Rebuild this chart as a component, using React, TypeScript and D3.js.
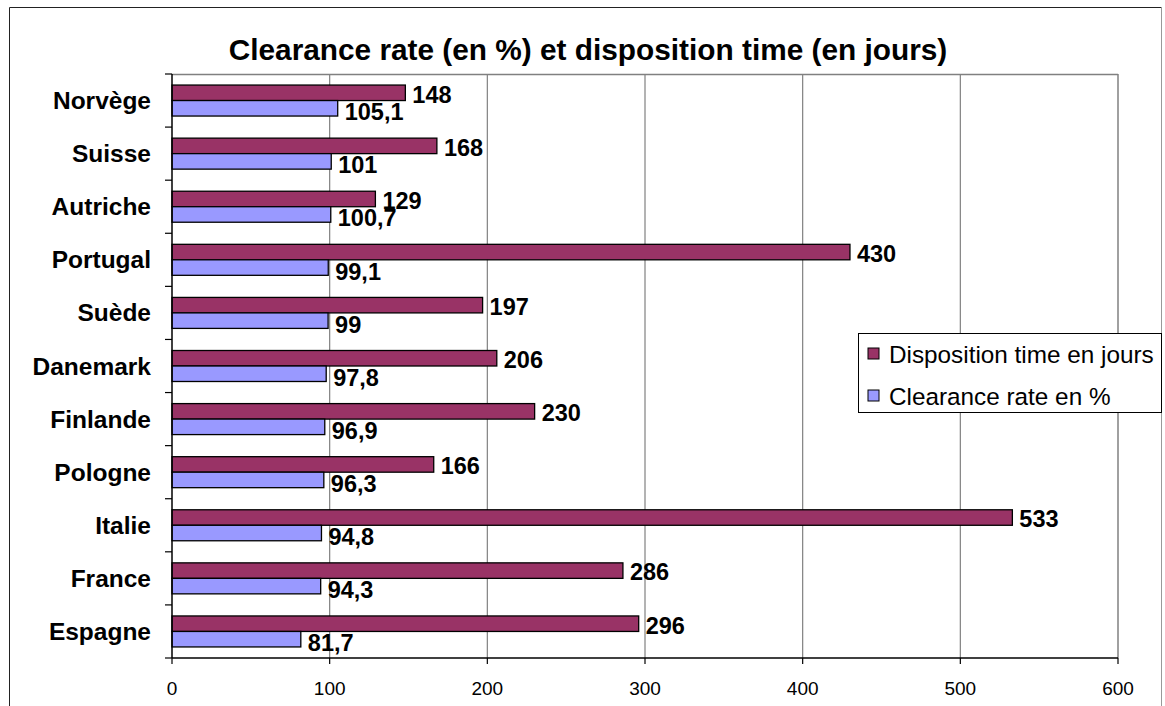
import React from "react";
import * as d3 from "d3";

const categories = ["Norvège", "Suisse", "Autriche", "Portugal", "Suède", "Danemark", "Finlande", "Pologne", "Italie", "France", "Espagne"];
const dispositionTime = [148, 168, 129, 430, 197, 206, 230, 166, 533, 286, 296];
const clearanceRate = [105.1, 101, 100.7, 99.1, 99, 97.8, 96.9, 96.3, 94.8, 94.3, 81.7];
const seriesNames = ["Disposition time en jours", "Clearance rate en %"];
const seriesColors = ["#993366", "#9999FF"];
const xTicks = [0, 100, 200, 300, 400, 500, 600];
const title = "Clearance rate (en %) et disposition time (en jours)";

const W = 1165, H = 706;
const plot = { left: 172, right: 1118, top: 74, bottom: 658 };
const font = "'Liberation Sans', Arial, Helvetica, sans-serif";
const labelShift = [9.8, 12];

export default function App() {
  const x = d3.scaleLinear().domain([0, 600]).range([plot.left, plot.right]);
  const y = d3.scaleBand<string>().domain(categories).range([plot.top, plot.bottom]).paddingInner(0).paddingOuter(0);
  const inner = d3.scaleBand<string>().domain(seriesNames).range([0, y.bandwidth()]).paddingInner(0).paddingOuter(0.713);
  const series = [dispositionTime, clearanceRate];
  const fmt = (v: number) => String(v).replace(".", ",");
  const step = y.step();

  return (
    <svg width={W} height={H} style={{ position: "absolute", left: 0, top: 0, background: "#fff", fontFamily: font }}>
      <rect x={0} y={0} width={W} height={H} fill="#fff" />
      {/* outer border */}
      <line x1={9.5} y1={7.5} x2={9.5} y2={H + 5} stroke="#222" strokeWidth={1} />
      <line x1={9.5} y1={7.5} x2={1161.5} y2={7.5} stroke="#222" strokeWidth={1} />
      <line x1={1161.5} y1={7.5} x2={1161.5} y2={H + 5} stroke="#999" strokeWidth={1} />

      <text x={588} y={60} textAnchor="middle" fontSize={29.8} fontWeight="bold" fill="#000">{title}</text>

      {/* plot frame */}
      <line x1={plot.left} y1={plot.top + 0.5} x2={plot.right} y2={plot.top + 0.5} stroke="#808080" strokeWidth={1.5} />
      <line x1={plot.right} y1={plot.top} x2={plot.right} y2={plot.bottom} stroke="#808080" strokeWidth={1.5} />
      {xTicks.slice(1, -1).map((t) => (
        <line key={"g" + t} x1={x(t)} y1={plot.top} x2={x(t)} y2={plot.bottom} stroke="#808080" strokeWidth={1.2} />
      ))}

      {/* bars */}
      {categories.map((c, i) => (
        <g key={c}>
          {series.map((s, j) => {
            const by = (y(c) as number) + (inner(seriesNames[j]) as number);
            const bh = inner.bandwidth();
            return (
              <g key={j}>
                <rect x={x(0)} y={by} width={x(s[i]) - x(0)} height={bh} fill={seriesColors[j]} stroke="#000" strokeWidth={1.3} />
                <text x={x(s[i]) + 7} y={by + bh / 2 + labelShift[j]} fontSize={23.5} fontWeight="bold" fill="#000">{fmt(s[i])}</text>
              </g>
            );
          })}
          <text x={151} y={(y(c) as number) + step / 2 + 8.5} textAnchor="end" fontSize={24.5} fontWeight="bold" fill="#000">{c}</text>
        </g>
      ))}

      {/* axes */}
      <line x1={plot.left} y1={plot.top} x2={plot.left} y2={plot.bottom} stroke="#000" strokeWidth={1.5} />
      <line x1={plot.left} y1={plot.bottom} x2={plot.right} y2={plot.bottom} stroke="#000" strokeWidth={1.5} />
      {d3.range(categories.length + 1).map((k) => (
        <line key={"yt" + k} x1={plot.left - 7} y1={plot.top + k * step} x2={plot.left} y2={plot.top + k * step} stroke="#000" strokeWidth={1.2} />
      ))}
      {xTicks.map((t) => (
        <g key={"xt" + t}>
          <line x1={x(t)} y1={plot.bottom} x2={x(t)} y2={plot.bottom + 6} stroke="#000" strokeWidth={1.2} />
          <text x={x(t)} y={695} textAnchor="middle" fontSize={19} fill="#000">{t}</text>
        </g>
      ))}

      {/* legend */}
      <rect x={858.5} y={333.5} width={303} height={79} fill="#fff" stroke="#000" strokeWidth={1} />
      {seriesNames.map((n, j) => (
        <g key={n}>
          <rect x={868} y={348 + j * 42} width={11} height={11} fill={seriesColors[j]} stroke="#000" strokeWidth={1} />
          <text x={889} y={362.5 + j * 42} fontSize={24.3} fill="#000">{n}</text>
        </g>
      ))}
    </svg>
  );
}
